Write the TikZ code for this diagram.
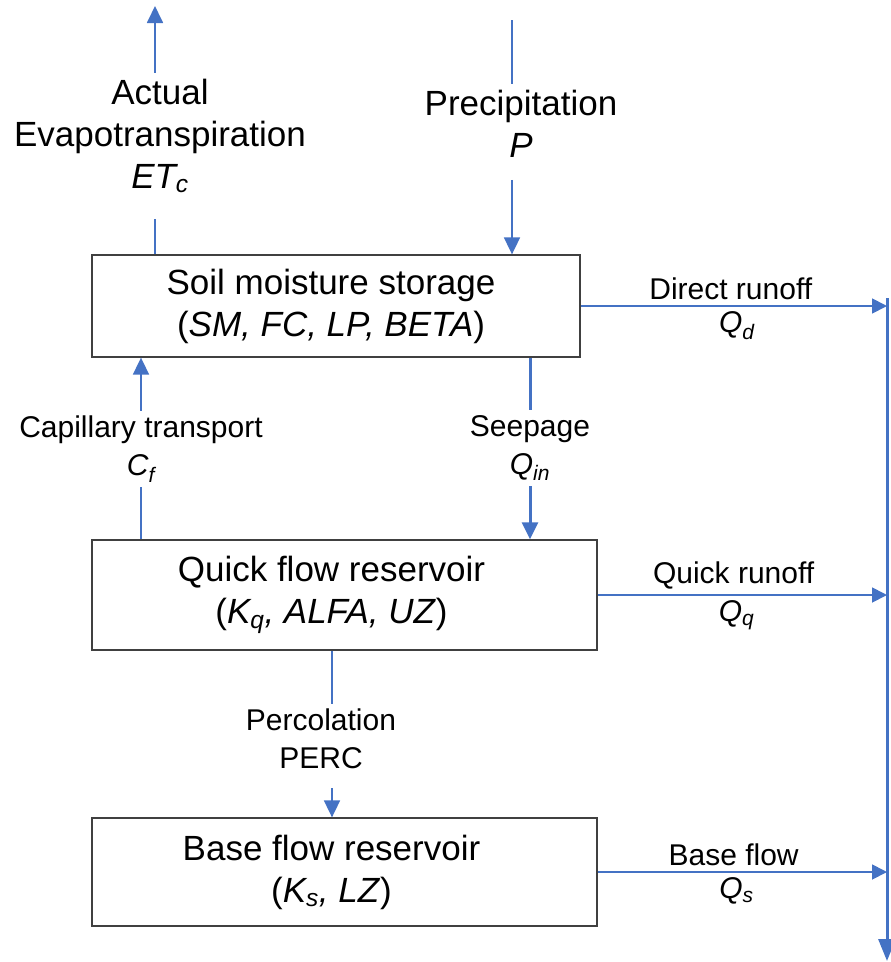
\documentclass[tikz,border=0pt]{standalone}
\usepackage{fontspec}
\setmainfont{Liberation Sans}
\usetikzlibrary{arrows.meta}

\definecolor{flowblue}{HTML}{4472C4}
\definecolor{boxgray}{HTML}{404040}

% pad on the right so the box text sits a little left of centre
\newcommand{\rpad}[1]{\hspace*{#1}}

\begin{document}
\begin{tikzpicture}[x=1pt,y=-1pt,
  store/.style={draw=boxgray, line width=1.3pt, fill=white, inner sep=0pt,
    align=center, font=\fontsize{35}{42}\selectfont},
  biglbl/.style={align=center, inner sep=6pt, font=\fontsize{35}{42}\selectfont},
  smalllbl/.style={align=center, inner sep=5pt, font=\fontsize{30}{38}\selectfont},
  flow/.style={draw=flowblue, line width=1.8pt},
  thickflow/.style={draw=flowblue, line width=3pt},
  tip/.style={-{Triangle[length=17pt,width=16pt]}},
  sidetip/.style={-{Triangle[length=15pt,width=15pt]}},
]
\useasboundingbox (0,0) rectangle (891,962);

% storages
\node[store, minimum width=488pt, minimum height=102pt] (soil) at (336,306)
  {Soil moisture storage\rpad{10pt}\\(\textit{SM, FC, LP, BETA})\rpad{10pt}};
\node[store, minimum width=505pt, minimum height=110pt] (quick) at (344.5,595)
  {Quick flow reservoir\rpad{26pt}\\(\textit{K\textsubscript{q}, ALFA, UZ})\rpad{26pt}};
\node[store, minimum width=505pt, minimum height=108pt] (base) at (344.5,872)
  {Base flow reservoir\rpad{26pt}\\(\textit{K\textsubscript{s}, LZ})\rpad{26pt}};

% collecting channel on the right
\coordinate (outtop) at (887,298);
\coordinate (outlet) at (887,961);
\draw[thickflow, -{Triangle[length=22pt,width=17pt]}] (outtop) -- (outlet);

% outflows
\draw[flow, sidetip] (soil.east) -- (soil.east -| outtop)
  node[pos=0.49, above, smalllbl] {Direct runoff}
  node[pos=0.51, below, smalllbl] {\textit{Q\textsubscript{d}}};
\draw[flow, sidetip] (quick.east) -- (quick.east -| outtop)
  node[pos=0.47, above, smalllbl] {Quick runoff}
  node[pos=0.48, below, smalllbl] {\textit{Q\textsubscript{q}}};
\draw[flow, sidetip] (base.east) -- (base.east -| outtop)
  node[pos=0.47, above, smalllbl] {Base flow}
  node[pos=0.48, below, smalllbl] {\textit{Q\textsubscript{s}}};

% evapotranspiration
\node[biglbl] (evap) at (160,136)
  {Actual\\Evapotranspiration\\\textit{ET\textsubscript{c}}};
\coordinate (evtop) at (155,6);
\draw[flow, tip] (evap.north -| evtop) -- (evtop);
\draw[flow, shorten >=20pt] (soil.north -| evtop) -- (evap.south -| evtop);

% precipitation
\node[biglbl] (prec) at (521,124) {Precipitation\\\textit{P}};
\coordinate (prtop) at (512,20);
\draw[flow] (prtop) -- (prec.north -| prtop);
\draw[flow, tip, shorten <=16pt] (prec.south -| prtop) -- (soil.north -| prtop);

% capillary transport
\node[smalllbl] (cap) at (141,449) {Capillary transport\\\textit{C\textsubscript{f}}};
\draw[flow, tip] (cap.north) -- (soil.south -| cap);
\draw[flow] (quick.north -| cap) -- (cap.south);

% seepage
\node[smalllbl] (seep) at (530,448) {Seepage\\\textit{Q\textsubscript{in}}};
\draw[thickflow] (soil.south -| seep) -- (seep.north);
\draw[thickflow, tip] (seep.south) -- (quick.north -| seep);

% percolation
\node[smalllbl] (perc) at (321,739) {Percolation\\PERC};
\draw[flow] ([xshift=11pt]quick.south -| perc) -- ([xshift=11pt]perc.north);
\draw[flow, tip, shorten <=14pt] ([xshift=11pt]perc.south) -- ([xshift=11pt]base.north -| perc);
\end{tikzpicture}
\end{document}
